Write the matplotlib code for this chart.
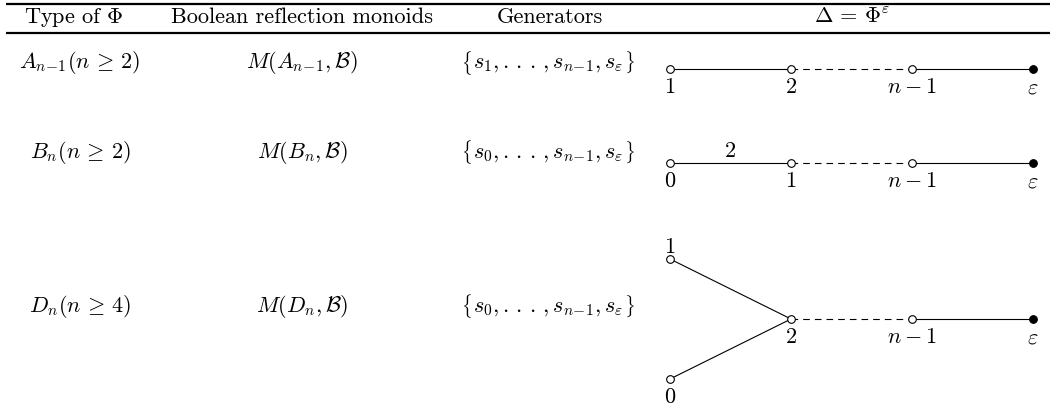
import matplotlib
matplotlib.use("Agg")
import matplotlib.pyplot as plt

plt.rcParams['mathtext.fontset'] = 'cm'
plt.rcParams['font.family'] = ['cmr10', 'DejaVu Sans']

# table contents
headers = ['Type of $\\Phi$', 'Boolean reflection monoids', 'Generators',
           '$\\Delta\\,=\\,\\Phi^{\\varepsilon}$']
types = ['$A_{n\\!-\\!1}(n\\,\\geq\\,2)$', '$B_n(n\\,\\geq\\,2)$',
         '$D_n(n\\,\\geq\\,4)$']
monoids = ['$M(A_{n\\!-\\!1},\\mathcal{B})$', '$M(B_n,\\mathcal{B})$',
           '$M(D_n,\\mathcal{B})$']
# set contents, braces are drawn separately
generators = ['$s_1,.\\,.\\,.\\,,s_{n\\!-\\!1},s_{\\varepsilon}$',
              '$s_0,.\\,.\\,.\\,,s_{n\\!-\\!1},s_{\\varepsilon}$',
              '$s_0,.\\,.\\,.\\,,s_{n\\!-\\!1},s_{\\varepsilon}$']

# dynkin diagrams: node labels, grid coords, edges (i, j, dashed)
eps = '$\\varepsilon$'
nodes_A = ['$1$', '$2$', '$n-1$', eps]
grid_A = [(0, 0), (1, 0), (2, 0), (3, 0)]
edges_A = [(0, 1, False), (1, 2, True), (2, 3, False)]

nodes_B = ['$0$', '$1$', '$n-1$', eps]
grid_B = [(0, 0), (1, 0), (2, 0), (3, 0)]
edges_B = [(0, 1, False), (1, 2, True), (2, 3, False)]
edge_label_B = (0, '$2$')

nodes_D = ['$1$', '$0$', '$2$', '$n-1$', eps]
grid_D = [(0, 1), (0, -1), (1, 0), (2, 0), (3, 0)]
edges_D = [(0, 2, False), (1, 2, False), (2, 3, True), (3, 4, False)]

diagrams = [
    (nodes_A, grid_A, edges_A, None),
    (nodes_B, grid_B, edges_B, edge_label_B),
    (nodes_D, grid_D, edges_D, None),
]

# layout (pixels)
W, H = 1054, 409
col_x = [80, 302, 548]
head_x = [74, 302, 550, 852]
row_base = [68, 158, 312]
row_node = [69, 163, 319]
dx0, dstep, dy = 670, 121, 60
fs = 16

fig = plt.figure(figsize=(W / 100, H / 100), dpi=100)
ax = fig.add_axes([0, 0, 1, 1])
ax.set_xlim(0, W)
ax.set_ylim(H, 0)
ax.axis('off')
renderer = fig.canvas.get_renderer()

ax.hlines([4, 33], 6, 1050, colors='black', lw=1.6)
for x, h in zip(head_x, headers):
    ax.text(x, 23, h, ha='center', va='baseline', fontsize=fs)

for r in range(3):
    for x, t in zip(col_x[:2], [types[r], monoids[r]]):
        ax.text(x, row_base[r], t, ha='center', va='baseline', fontsize=fs)

    g = ax.text(col_x[2], row_base[r], generators[r], ha='center',
                va='baseline', fontsize=fs)
    bb = g.get_window_extent(renderer).transformed(ax.transData.inverted())
    axis_y = row_base[r] - 5.5
    ax.text(bb.x0 - 1, axis_y, '$\\{$', ha='right', va='center',
            fontsize=fs / 1.2)
    ax.text(bb.x1 + 1, axis_y, '$\\}$', ha='left', va='center',
            fontsize=fs / 1.2)

    labels, grid, edges, elab = diagrams[r]
    px = [dx0 + gx * dstep for gx, gy in grid]
    py = [row_node[r] - gy * dy for gx, gy in grid]
    for i, j, dashed in edges:
        ax.plot([px[i], px[j]], [py[i], py[j]], color='black', lw=0.8,
                dashes=(6, 4.5) if dashed else (None, None), zorder=2)
    for k, lab in enumerate(labels):
        last = k == len(labels) - 1
        ax.plot(px[k], py[k], 'o', ms=5.5, mec='black', mew=0.8,
                mfc='black' if last else 'white', zorder=3)
        if grid[k][1] > 0:
            ax.text(px[k], py[k] - 6, lab, ha='center', va='baseline',
                    fontsize=fs)
        else:
            ax.text(px[k], py[k] + 24, lab, ha='center', va='baseline',
                    fontsize=fs)
    if elab is not None:
        e, lab = elab
        i, j, _ = edges[e]
        ax.text((px[i] + px[j]) / 2, py[i] - 6, lab, ha='center',
                va='baseline', fontsize=fs)

fig.savefig('out.png', dpi=100)
